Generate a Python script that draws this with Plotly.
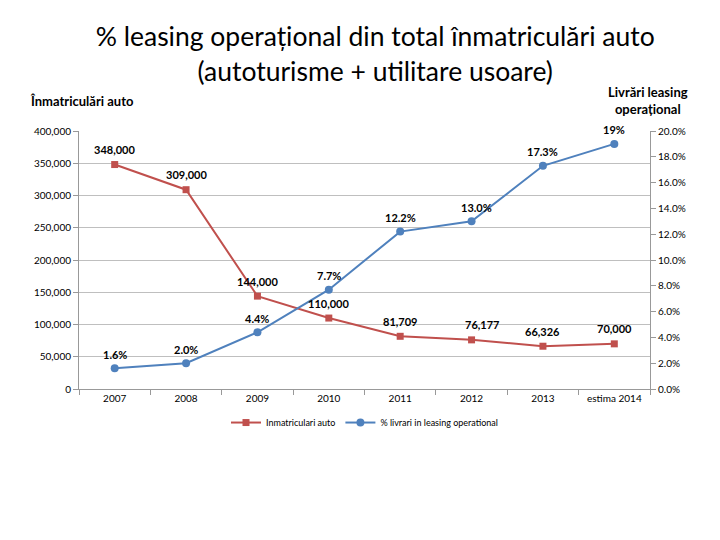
import plotly.graph_objects as go

years = ["2007", "2008", "2009", "2010", "2011", "2012", "2013", "estima 2014"]
inmatriculari = [348000, 309000, 144000, 110000, 81709, 76177, 66326, 70000]
leasing_pct = [1.6, 2.0, 4.4, 7.7, 12.2, 13.0, 17.3, 19.0]
inm_labels = ["348,000", "309,000", "144,000", "110,000", "81,709", "76,177", "66,326", "70,000"]
pct_labels = ["1.6%", "2.0%", "4.4%", "7.7%", "12.2%", "13.0%", "17.3%", "19%"]

RED = "#C0504D"
BLUE = "#4F81BD"
FONT = "Lato"

fig = go.Figure()
fig.add_trace(go.Scatter(
    x=years, y=inmatriculari, name="Inmatriculari auto", mode="lines+markers",
    line=dict(color=RED, width=2), marker=dict(symbol="square", size=7, color=RED),
    yaxis="y"))
fig.add_trace(go.Scatter(
    x=years, y=leasing_pct, name="% livrari in leasing operational", mode="lines+markers",
    line=dict(color=BLUE, width=2), marker=dict(symbol="circle", size=8, color=BLUE),
    yaxis="y2"))

inm_xshift = [0, 0, 0, 0, 0, 10, 0, 0]
pct_xshift = [0, 0, 0, 0, 0, 5, 0, 0]
annotations = []
for i, y in enumerate(inmatriculari):
    annotations.append(dict(x=i, y=y, xref="x", yref="y", text="<b>%s</b>" % inm_labels[i],
                            showarrow=False, yshift=15, xshift=inm_xshift[i],
                            font=dict(family=FONT, size=11, color="#000")))
for i, y in enumerate(leasing_pct):
    annotations.append(dict(x=i, y=y, xref="x", yref="y2", text="<b>%s</b>" % pct_labels[i],
                            showarrow=False, yshift=14, xshift=pct_xshift[i],
                            font=dict(family=FONT, size=11, color="#000")))
annotations.append(dict(x=-0.089, y=1.116, xref="paper", yref="paper", xanchor="left",
                        yanchor="middle", text="<b>Înmatriculări auto</b>", showarrow=False,
                        font=dict(family=FONT, size=13, color="#000")))
annotations.append(dict(x=0.9965, y=1.12, xref="paper", yref="paper", xanchor="center",
                        yanchor="middle", text="<b>Livrări leasing<br>operațional</b>",
                        showarrow=False, font=dict(family=FONT, size=13, color="#000")))

fig.update_layout(
    width=720, height=540,
    paper_bgcolor="white", plot_bgcolor="white",
    margin=dict(l=71, r=78, t=123, b=159),
    font=dict(family=FONT, size=10, color="#000"),
    title=dict(text="% leasing operațional din total înmatriculări auto<br>(autoturisme + utilitare usoare)",
               x=0.51, xanchor="center", y=0.929, yanchor="middle",
               font=dict(family=FONT, size=26.5, color="#000")),
    xaxis=dict(type="category", range=[-0.5, 7.5], showline=True, linecolor="#999",
               ticks="outside", tickson="boundaries", ticklen=5, tickcolor="#999",
               showgrid=False, tickfont=dict(size=10)),
    yaxis=dict(range=[0, 400000], dtick=50000, tickformat=",", showline=True, linecolor="#999",
               ticks="outside", ticklen=5, tickcolor="#999", showgrid=True, gridcolor="#BFBFBF",
               zeroline=False, tickfont=dict(size=10)),
    yaxis2=dict(range=[0, 20], dtick=2, tickformat=".1f", ticksuffix="%", overlaying="y",
                side="right", showline=True, linecolor="#999", ticks="outside", ticklen=5,
                tickcolor="#999", showgrid=False, zeroline=False, tickfont=dict(size=10)),
    legend=dict(orientation="h", x=0.5, xanchor="center", y=-0.13, yanchor="middle",
                font=dict(family=FONT, size=9)),
    annotations=annotations,
)

fig.write_html("out.html")
